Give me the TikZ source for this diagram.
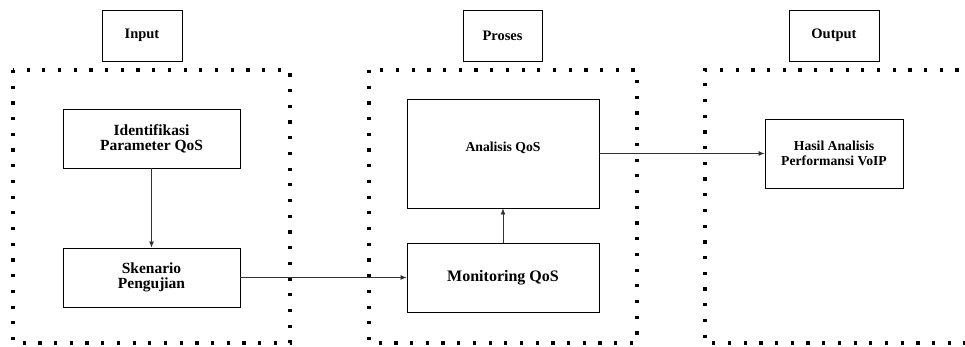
\documentclass[tikz,border=0pt]{standalone}
\usepackage{fontspec}
\setmainfont{Liberation Serif}
\usetikzlibrary{arrows.meta}
\begin{document}
\begin{tikzpicture}[x=1pt,y=-1pt,
  box/.style={draw=black,line width=0.9pt,inner sep=0pt,align=center,font=\bfseries},
  dotbox/.style={draw=black,line width=3.2pt,dash pattern=on 3.2pt off 12.5pt},
  conn/.style={draw=black!80,line width=0.8pt,-{Latex[length=6pt,width=5pt]}}]
\useasboundingbox (0,0) rectangle (965,347);
\clip (0,0) rectangle (965,347);
\fill[white] (0,0) rectangle (965,347);
% group frames
\draw[dotbox] (13,70) rectangle (290,343);
\draw[dotbox] (369,70) rectangle (637,343);
\draw[dotbox] (990,70) -- (705,70) -- (705,343) -- (990,343);
% headers
\node[box,minimum width=80pt,minimum height=51pt,font=\bfseries\fontsize{14.5}{16}\selectfont] (input) at (142,35.5) {Input};
\node[box,minimum width=79pt,minimum height=51pt,font=\bfseries\fontsize{14.5}{16}\selectfont] (proses) at (502.5,35.5) {Proses};
\node[box,minimum width=90pt,minimum height=51pt,font=\bfseries\fontsize{14.5}{16}\selectfont] (output) at (834,35.5) {Output};
% boxes
\node[box,minimum width=177pt,minimum height=59pt,font=\bfseries\fontsize{15.5}{15}\selectfont] (ident) at (151.5,138.5) {Identifikasi\\Parameter QoS};
\node[box,minimum width=177pt,minimum height=59pt,font=\bfseries\fontsize{15.5}{15}\selectfont] (sken) at (151.5,277.5) {Skenario\\Pengujian};
\node[box,minimum width=192pt,minimum height=109pt] (anal) at (503,153.5) {};
\node[font=\bfseries\fontsize{13.7}{15}\selectfont,inner sep=0pt] (analtext) at (503,148) {Analisis QoS};
\node[box,minimum width=192pt,minimum height=69pt,font=\bfseries\fontsize{16}{17}\selectfont] (moni) at (503,277.5) {Monitoring QoS};
\node[box,minimum width=138pt,minimum height=69pt,font=\bfseries\fontsize{13.7}{14.5}\selectfont] (hasil) at (834,153.5) {Hasil Analisis\\Performansi VoIP};
% connectors
\draw[conn] (ident.south) -- (sken.north);
\draw[conn] (sken.east) -- (moni.west);
\draw[conn] (moni.north) -- (anal.south);
\draw[conn] (anal.east) -- (hasil.west);
\end{tikzpicture}
\end{document}
